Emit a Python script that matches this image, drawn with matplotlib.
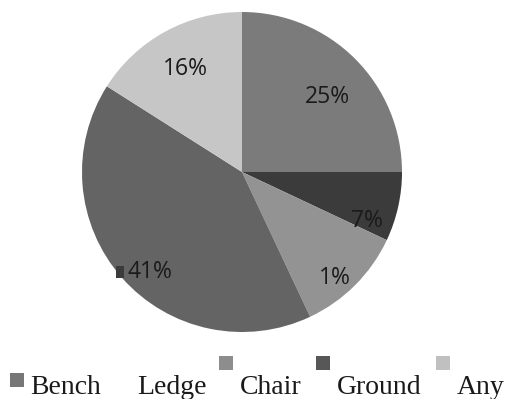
import matplotlib
matplotlib.use("Agg")
import matplotlib.pyplot as plt
from matplotlib.patches import Rectangle

categories = ["Bench", "Ledge", "Chair", "Ground", "Any"]
shares = [25, 7, 11, 41, 16]
pct_labels = ["25%", "7%", "1%", "41%", "16%"]
colors = ["#7b7b7b", "#3b3b3b", "#939393", "#646464", "#c6c6c6"]

W, H = 508, 399
fig = plt.figure(figsize=(W / 100, H / 100), dpi=100)
fig.patch.set_facecolor("white")

# pie centred at (242, 172) px with radius 160 px
cx, cy, r = 242, 172, 160
ax = fig.add_axes([(cx - r) / W, (H - cy - r) / H, 2 * r / W, 2 * r / H])
wedges, _ = ax.pie(shares, colors=colors, startangle=90, counterclock=False,
                   radius=1.0, wedgeprops=dict(linewidth=0))
ax.set_xlim(-1, 1)
ax.set_ylim(-1, 1)
ax.set_aspect("equal")
ax.axis("off")

# percentage labels, placed in pixel coordinates
label_px = [(327, 97), (367, 221), (335, 278), (150, 272), (185, 69)]
for (px, py), txt in zip(label_px, pct_labels):
    fig.text(px / W, 1 - py / H, txt, ha="center", va="center",
             fontsize=16.5, family="Open Sans", color="#1a1a1a")

# small dark square beside the 41% label
fig.add_artist(Rectangle((116 / W, 1 - 278 / H), 8 / W, 12 / H,
                         transform=fig.transFigure, facecolor="#3b3b3b",
                         edgecolor="none"))

# legend row
legend_items = [
    # name, text x, marker (x, y) or None
    ("Bench", 30, (10, 373)),
    ("Ledge", 137, None),
    ("Chair", 240, (219, 356)),
    ("Ground", 337, (316, 356)),
    ("Any", 457, (436, 356)),
]
legend_colors = ["#777777", "#3b3b3b", "#8d8d8d", "#575757", "#c0c0c0"]
for (name, tx, mk), col in zip(legend_items, legend_colors):
    fig.text(tx / W, 1 - 394 / H, name, ha="left", va="baseline",
             fontsize=20, family="Liberation Serif", color="#1a1a1a")
    if mk is not None:
        mx, my = mk
        fig.add_artist(Rectangle((mx / W, 1 - (my + 14) / H), 14 / W, 14 / H,
                                 transform=fig.transFigure, facecolor=col,
                                 edgecolor="none"))

fig.savefig("out.png", dpi=100, facecolor="white")
